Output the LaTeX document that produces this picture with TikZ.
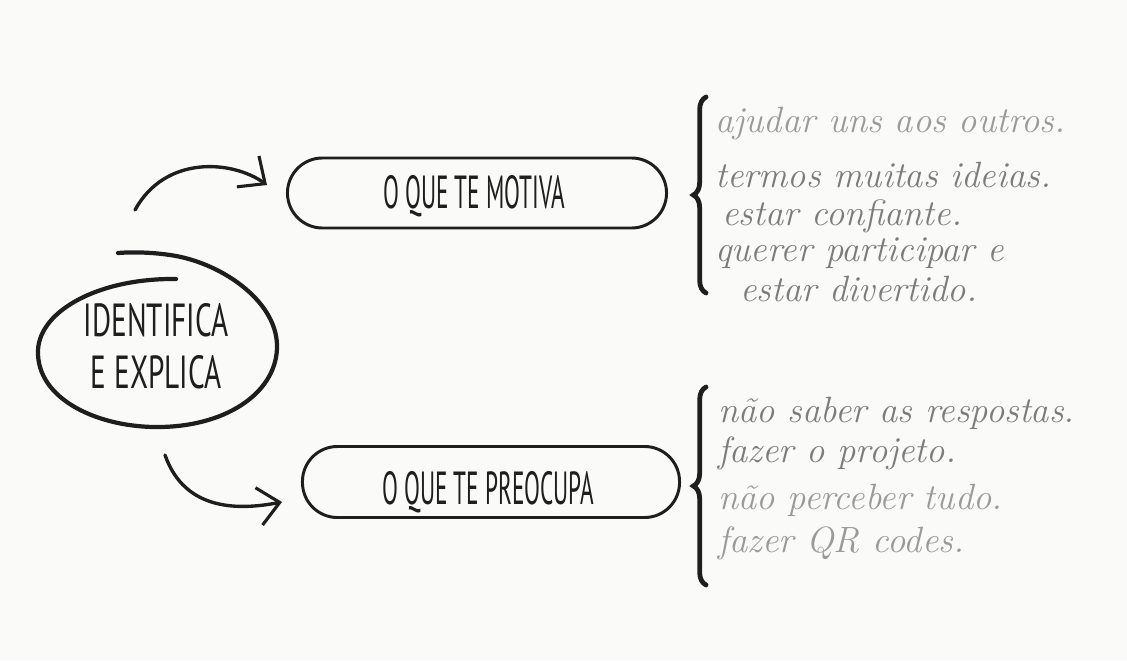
\documentclass[tikz,border=0pt]{standalone}
\usepackage{fontspec}
\usetikzlibrary{arrows.meta,decorations.pathreplacing,shapes.geometric}
\newfontfamily\capsfont{PT Sans}
\definecolor{paper}{HTML}{FAFAF9}
\definecolor{ink}{HTML}{1E1E1E}
\definecolor{pencil}{HTML}{7C7C7C}
\definecolor{pencillight}{HTML}{9A9A9A}
\tikzset{
  pill/.style={draw=ink, line width=2.1pt, rounded corners=0.875cm,
    minimum width=9.475cm, minimum height=1.75cm, inner sep=0pt},
  caps/.style={text=ink, font=\capsfont\fontsize{33}{33}\selectfont},
  bend arrow/.style={draw=ink, line width=2.4pt, line cap=round,
    -{Straight Barb[length=15pt, width=27pt, line width=2.2pt]}},
  brace line/.style={draw=ink, line width=3.4pt, line cap=round,
    decorate, decoration={brace, amplitude=9pt, aspect=0.5}},
  hand/.style={anchor=west, inner sep=0pt, text=pencil, font=\itshape\fontsize{26}{26}\selectfont},
  handlight/.style={hand, text=pencillight}
}
\newcommand{\narrow}[1]{\scalebox{0.5}[1]{#1}}
\newcommand{\narrowid}[1]{\scalebox{0.63}[1]{#1}}
\begin{document}
\begin{tikzpicture}[x=0.025cm, y=-0.025cm]
  \fill[paper] (0,0) rectangle (1127,660);
  \useasboundingbox (0,0) rectangle (1127,660);

  % central idea, drawn as an open hand-made loop
  \node[ellipse, minimum width=6cm, minimum height=3.9cm, inner sep=0pt] (id) at (158,349) {};
  \node[caps, align=center] (idtxt) at (156,346) {\narrowid{IDENTIFICA}\\[4pt]\narrowid{E EXPLICA}};
  \draw[ink, line width=3pt, line cap=round]
    (176,279) .. controls (100,278) and (40,310) .. (38,350)
    .. controls (36,400) and (100,428) .. (160,427)
    .. controls (230,426) and (278,390) .. (277,345)
    .. controls (276,300) and (220,262) .. (170,255)
    .. controls (150,252) and (130,252) .. (118,253);

  % the two questions
  \node[pill] (mot) at (477,193) {};
  \node[caps] (mottxt) at (474,196) {\narrow{O QUE TE MOTIVA}};
  \node[pill, minimum width=9.425cm, minimum height=1.775cm] (pre) at (491,482) {};
  \node[caps] (pretxt) at (488,492) {\narrow{O QUE TE PREOCUPA}};

  % arrows from the central idea
  \coordinate (a1s) at (135,210);
  \coordinate (a1e) at (267,185);
  \coordinate (a2s) at (165,455);
  \coordinate (a2e) at (282,502);
  \draw[bend arrow] (a1s) .. controls (165,155) and (232,160) .. (a1e);
  \draw[bend arrow] (a2s) .. controls (185,512) and (240,510) .. (a2e);

  % braces
  \coordinate (b1b) at (706,293);
  \coordinate (b1t) at (706,97);
  \coordinate (b2b) at (706,585);
  \coordinate (b2t) at (706,387);
  \draw[brace line] (b1b) -- (b1t);
  \draw[brace line] (b2b) -- (b2t);

  % what motivates
  \node[handlight] (m1) at (715,124) {ajudar uns aos outros.};
  \node[hand] (m2) at (715,175) {termos muitas ideias.};
  \node[hand] (m3) at (722,216) {estar confiante.};
  \node[hand] (m4) at (715,253) {querer participar e};
  \node[hand] (m5) at (740,289) {estar divertido.};

  % what worries
  \node[hand] (p1) at (718,413) {não saber as respostas.};
  \node[hand] (p2) at (718,453) {fazer o projeto.};
  \node[handlight] (p3) at (718,500) {não perceber tudo.};
  \node[handlight] (p4) at (718,543) {fazer QR codes.};
\end{tikzpicture}
\end{document}
